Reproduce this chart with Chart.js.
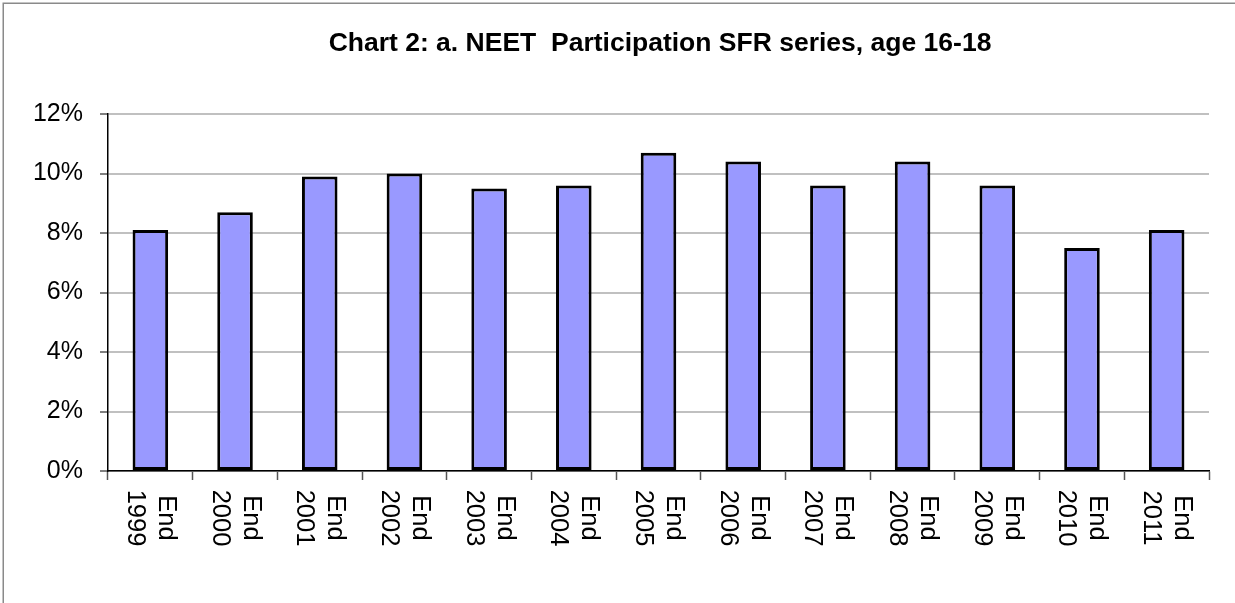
<!DOCTYPE html>
<html>
<head>
<meta charset="utf-8">
<script src="https://cdn.jsdelivr.net/npm/chart.js@4/dist/chart.umd.min.js"></script>
<style>
  html, body { margin: 0; padding: 0; background: #fff; overflow: hidden; }
  #wrap { position: relative; width: 1235px; height: 603px; }
</style>
</head>
<body>
<div id="wrap"><canvas id="neetChart" width="1235" height="603"></canvas></div>
<script>
const titleText = 'Chart 2: a. NEET  Participation SFR series, age 16-18';
const years = ['1999', '2000', '2001', '2002', '2003', '2004', '2005', '2006', '2007', '2008', '2009', '2010', '2011'];
const neetPct = [8.1, 8.7, 9.9, 10.0, 9.5, 9.6, 10.7, 10.4, 9.6, 10.4, 9.6, 7.5, 8.1];
const yTicks = [0, 2, 4, 6, 8, 10, 12];

const FONT = '"Liberation Sans", Arial, sans-serif';

// outer frame, title and the rotated (top-to-bottom) category labels
const decorPlugin = {
    id: 'decor',
    beforeDraw(chart) {
        const ctx = chart.ctx;
        ctx.save();
        ctx.strokeStyle = '#8a8a8a';
        ctx.lineWidth = 1.5;
        ctx.strokeRect(3.25, 3.25, chart.width + 20, chart.height + 20);
        ctx.restore();
    },
    afterDraw(chart) {
        const ctx = chart.ctx;
        ctx.save();
        ctx.fillStyle = '#000';
        ctx.font = 'bold 26.5px ' + FONT;
        ctx.textAlign = 'center';
        ctx.textBaseline = 'alphabetic';
        ctx.fillText(titleText, 660, 51);

        const xScale = chart.scales.x;
        ctx.font = '25.5px ' + FONT;
        ctx.textBaseline = 'middle';
        chart.data.labels.forEach((lab, i) => {
            const x = xScale.getPixelForValue(i);
            ctx.save();
            ctx.translate(x, 518);
            ctx.rotate(Math.PI / 2);
            ctx.fillText(lab[0], 0, -15.5);
            ctx.fillText(lab[1], 0, 15.5);
            ctx.restore();
        });
        ctx.restore();
    }
};

const ctx = document.getElementById('neetChart').getContext('2d');
new Chart(ctx, {
    type: 'bar',
    data: {
        labels: years.map(y => ['End', y]),
        datasets: [{
            label: 'NEET',
            data: neetPct,
            backgroundColor: '#9999ff',
            borderColor: '#000000',
            borderWidth: 3,
            borderSkipped: false,
            barPercentage: 0.42,
            categoryPercentage: 1
        }]
    },
    options: {
        responsive: false,
        animation: false,
        events: [],
        layout: { padding: { top: 114, right: 26, bottom: 0, left: 0 } },
        plugins: {
            legend: { display: false },
            title: { display: false },
            tooltip: { enabled: false }
        },
        scales: {
            x: {
                offset: true,
                grid: {
                    offset: true,
                    drawOnChartArea: false,
                    drawTicks: true,
                    tickLength: 9,
                    tickColor: '#555555',
                    tickWidth: 1.5
                },
                border: { color: '#000', width: 1.5 },
                ticks: { display: false },
                afterFit(scale) { scale.height = 132; }
            },
            y: {
                min: 0,
                max: 12,
                afterBuildTicks(scale) { scale.ticks = yTicks.map(v => ({ value: v })); },
                grid: {
                    color: '#c0c0c0',
                    lineWidth: 2,
                    tickColor: '#000',
                    tickWidth: 1,
                    tickLength: 8
                },
                border: { color: '#000', width: 1.5 },
                ticks: {
                    color: '#000',
                    padding: 17,
                    font: { family: FONT, size: 25 },
                    callback: v => v + '%'
                },
                afterFit(scale) { scale.width = 108; }
            }
        }
    },
    plugins: [decorPlugin]
});
</script>
</body>
</html>
